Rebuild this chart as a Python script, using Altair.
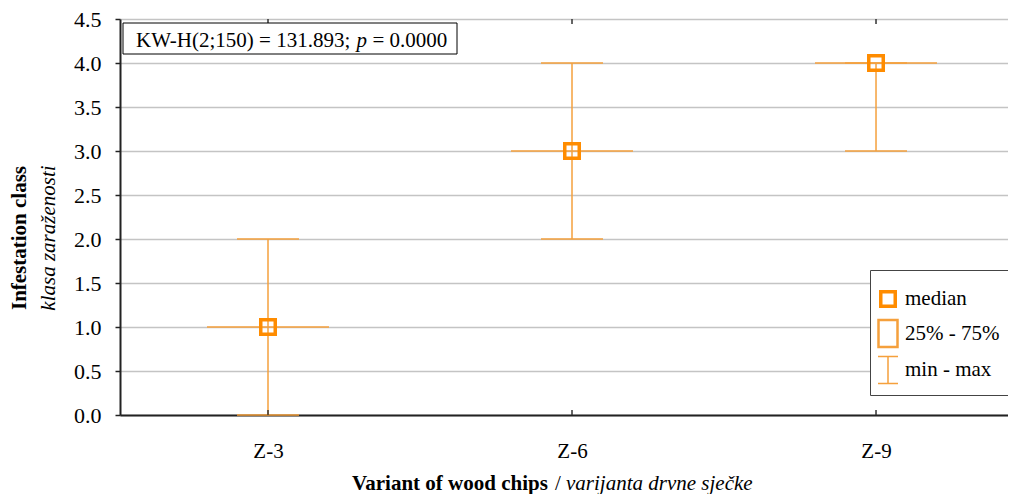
import altair as alt
import pandas as pd

# ---- data ----
variants = ["Z-3", "Z-6", "Z-9"]
mins = [0.0, 2.0, 3.0]
q1s = [1.0, 3.0, 4.0]
medians = [1.0, 3.0, 4.0]
q3s = [1.0, 3.0, 4.0]
maxs = [2.0, 4.0, 4.0]
y_ticks = [0.0, 0.5, 1.0, 1.5, 2.0, 2.5, 3.0, 3.5, 4.0, 4.5]
legend_labels = ["median", "25% - 75%", "min - max"]
stat_parts = ["KW-H(2;150) = 131.893;", "p", "= 0.0000"]
y_title = ["Infestation class", "klasa zaraženosti"]
x_title = ["Variant of wood chips", "/", "varijanta drvne sječke"]

df = pd.DataFrame({
    "variant": variants, "ymin": mins, "q1": q1s,
    "median": medians, "q3": q3s, "ymax": maxs,
})
legend_df = pd.DataFrame({"kind": legend_labels, "variant": [variants[0]] * 3, "y": [-1.0] * 3})
one = pd.DataFrame({"a": [0]})

FONT = "Liberation Serif"
LINE = "#F5A03C"
DARK = "#FF8C00"
W, H = 888, 396

x_scale = alt.Scale(type="point", domain=variants, padding=0.4605, align=0.5286)
y_scale = alt.Scale(domain=[0, 4.5], nice=False, zero=False)

x_axis = alt.Axis(title=None, ticks=False, tickSize=0, labelPadding=25, labelAngle=0,
                  labelFont=FONT, labelFontSize=21, labelColor="black",
                  domainColor="#222222", domainWidth=2, grid=False)
y_axis = alt.Axis(title=None, values=y_ticks, format=".1f", tickSize=5, tickColor="#222222",
                  tickWidth=1.5, labelPadding=14, labelFont=FONT, labelFontSize=22,
                  labelColor="black", domainColor="#222222", domainWidth=2,
                  grid=True, gridColor="#C4C4C4", gridWidth=1.5)


def X():
    return alt.X("variant:N", scale=x_scale, axis=x_axis)


def Y(field):
    return alt.Y(field, scale=y_scale, axis=y_axis)


base = alt.Chart(df)

whisker = base.mark_rule(color=LINE, strokeWidth=1.5).encode(
    x=X(), y=Y("ymin:Q"), y2="ymax:Q")
cap_lo = base.mark_tick(color=LINE, orient="horizontal", size=62, thickness=1.5, opacity=1).encode(
    x=X(), y=Y("ymin:Q"))
cap_hi = base.mark_tick(color=LINE, orient="horizontal", size=62, thickness=1.5, opacity=1).encode(
    x=X(), y=Y("ymax:Q"))
box = base.mark_bar(size=122, fillOpacity=0, stroke=LINE, strokeWidth=1.5).encode(
    x=X(), y=Y("q1:Q"), y2="q3:Q")
med = base.mark_point(shape="square", size=210, filled=False, strokeWidth=3.5,
                      color=DARK, opacity=1).encode(x=X(), y=Y("median:Q"))
tick_bot = base.mark_rule(color="#333333", strokeWidth=1.5).encode(
    x=X(), y=alt.value(H), y2=alt.value(H - 5))
tick_top = base.mark_rule(color="#333333", strokeWidth=1.5).encode(
    x=X(), y=alt.value(0), y2=alt.value(5))

# legend (symbols drawn by the legend itself; dummy points are clipped away)
legend_kw = dict(orient="none", legendX=750, legendY=251, title=" ", titleFontSize=2,
                 titlePadding=2, padding=8,
                 strokeColor="#444444", fillColor="white", symbolSize=930, rowPadding=1,
                 labelFont=FONT, labelFontSize=21, labelColor="black",
                 labelOffset={"expr": "-7"})
paths = [
    "M-0.934,-0.475H0.016V0.475H-0.934Z",
    "M-1.082,-0.885H0.164V0.885H-1.082Z",
    "M-1.115,-0.885H0.197M-0.459,-0.885V0.885M-1.115,0.885H0.197",
]
leg = alt.Chart(legend_df).mark_point(filled=False, size=930, opacity=1, clip=True).encode(
    x=X(), y=Y("y:Q"),
    shape=alt.Shape("kind:N", scale=alt.Scale(domain=legend_labels, range=paths),
                    legend=alt.Legend(**legend_kw)),
    color=alt.Color("kind:N", scale=alt.Scale(domain=legend_labels, range=[DARK, LINE, LINE]),
                    legend=alt.Legend(**legend_kw)),
    strokeWidth=alt.StrokeWidth("kind:N", scale=alt.Scale(domain=legend_labels, range=[3.5, 1.5, 1.5]),
                                legend=alt.Legend(**legend_kw)),
)

# statistics box
ann = alt.Chart(one)
stat_box = ann.mark_rect(fill="white", stroke="black", strokeWidth=1).encode(
    x=alt.value(3), x2=alt.value(337), y=alt.value(4), y2=alt.value(35))
stat1 = ann.mark_text(text=stat_parts[0], font=FONT, fontSize=21, align="left",
                      baseline="alphabetic", color="black").encode(x=alt.value(16), y=alt.value(28))
stat2 = ann.mark_text(text=stat_parts[1], font=FONT, fontSize=21, fontStyle="italic", align="left",
                      baseline="alphabetic", color="black").encode(x=alt.value(236.6), y=alt.value(28))
stat3 = ann.mark_text(text=stat_parts[2], font=FONT, fontSize=21, align="left",
                      baseline="alphabetic", color="black").encode(x=alt.value(252.4), y=alt.value(28))

# axis titles
yt1 = ann.mark_text(text=y_title[0], font=FONT, fontSize=21, fontWeight="bold", angle=270,
                    align="center", baseline="alphabetic", color="black").encode(
    x=alt.value(-94), y=alt.value(219))
yt2 = ann.mark_text(text=y_title[1], font=FONT, fontSize=21, fontStyle="italic", angle=270,
                    align="center", baseline="alphabetic", color="black").encode(
    x=alt.value(-65), y=alt.value(219))
xt1 = ann.mark_text(text=x_title[0], font=FONT, fontSize=21, fontWeight="bold", align="left",
                    baseline="alphabetic", color="black").encode(x=alt.value(232), y=alt.value(471))
xt2 = ann.mark_text(text=x_title[1], font=FONT, fontSize=21, align="left",
                    baseline="alphabetic", color="black").encode(x=alt.value(435), y=alt.value(471))
xt3 = ann.mark_text(text=x_title[2], font=FONT, fontSize=21, fontStyle="italic", align="left",
                    baseline="alphabetic", color="black").encode(x=alt.value(446), y=alt.value(471))

chart = alt.layer(
    whisker, cap_lo, cap_hi, box, med, tick_bot, tick_top, leg,
    stat_box, stat1, stat2, stat3, yt1, yt2, xt1, xt2, xt3,
).properties(
    width=W, height=H,
    autosize=alt.AutoSizeParams(type="none"),
    padding={"left": 112, "top": 11, "right": 0, "bottom": 79},
).configure_view(stroke="transparent").configure(background="white")

chart.save("out.html", embed_options={"renderer": "svg", "actions": False})
